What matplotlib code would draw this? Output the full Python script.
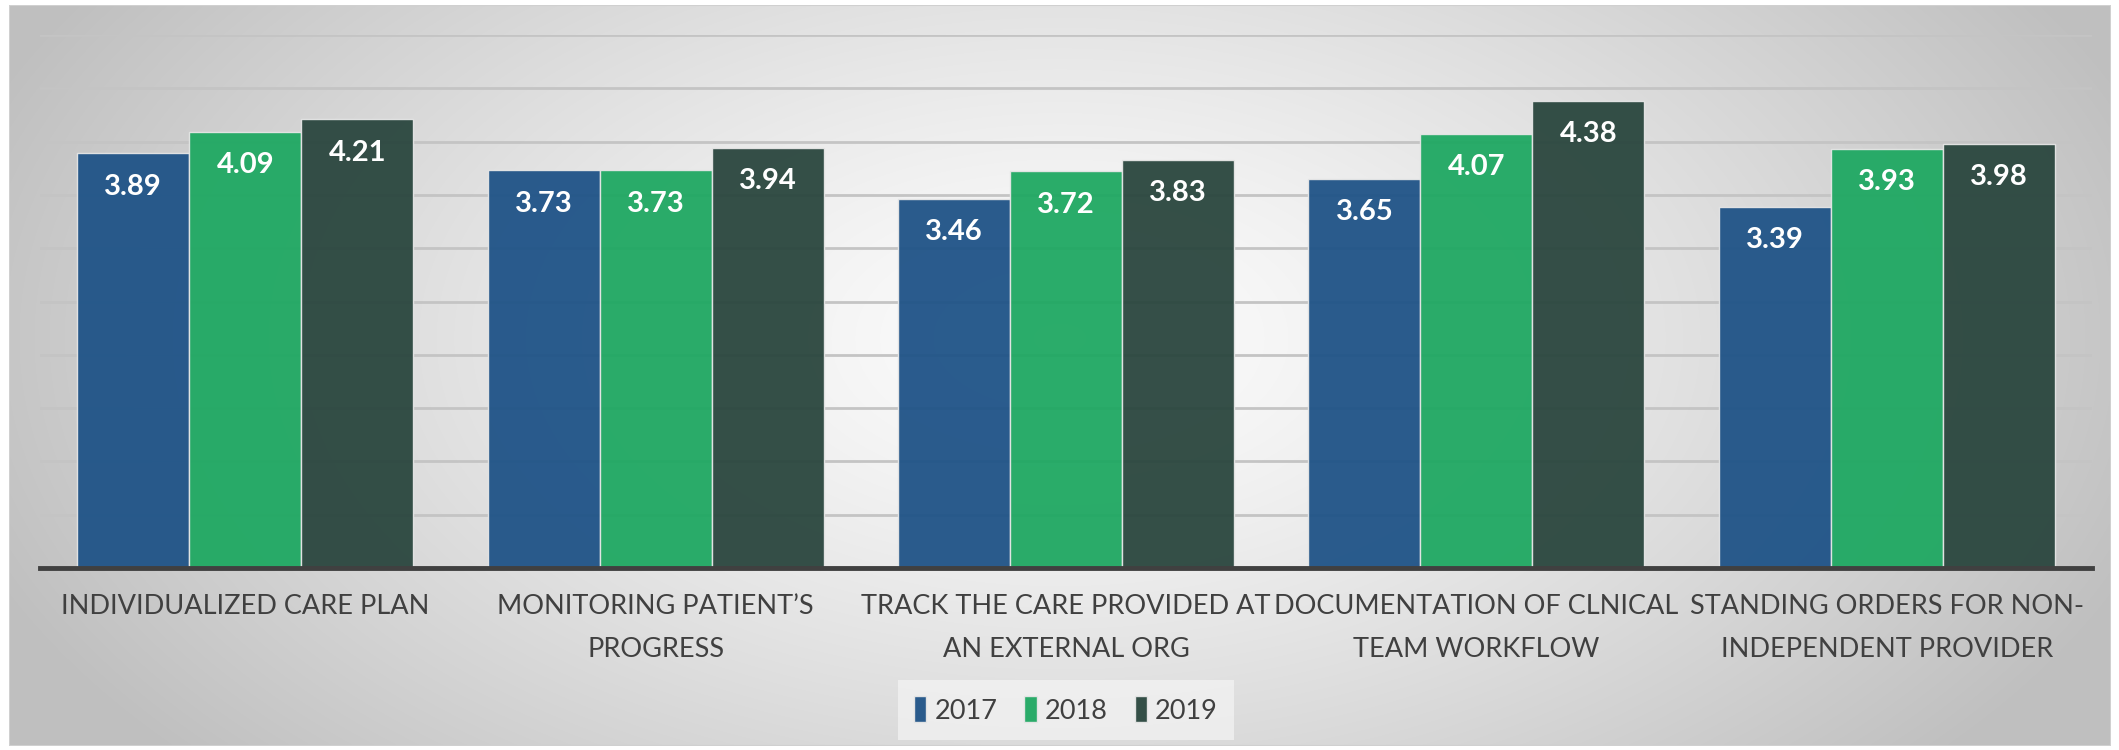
import numpy as np
import matplotlib
matplotlib.use("Agg")
import matplotlib.pyplot as plt
from matplotlib.patches import Rectangle

categories = ["INDIVIDUALIZED CARE PLAN",
              "MONITORING PATIENT\u2019S\nPROGRESS",
              "TRACK THE CARE PROVIDED AT\nAN EXTERNAL ORG",
              "DOCUMENTATION OF CLNICAL\nTEAM WORKFLOW",
              "STANDING ORDERS FOR NON-\nINDEPENDENT PROVIDER"]
series_names = ["2017", "2018", "2019"]
values_2017 = [3.89, 3.73, 3.46, 3.65, 3.39]
values_2018 = [4.09, 3.73, 3.72, 4.07, 3.93]
values_2019 = [4.21, 3.94, 3.83, 4.38, 3.98]
colors = ["#1f5387", "#1fa862", "#2a463e"]

plt.rcParams['font.family'] = ['Lato', 'DejaVu Sans']

W, H = 2119, 750
fig = plt.figure(figsize=(W / 100, H / 100), dpi=100)
fig.patch.set_facecolor("white")

# background radial gradient within chart area
x0, y0, x1, y1 = 9, 5, 2111, 746
bg = fig.add_axes([x0 / W, 1 - y1 / H, (x1 - x0) / W, (y1 - y0) / H])
bg.set_axis_off()
gx = np.linspace(-1, 1, 800)
gy = np.linspace(-1, 1, 300)
XX, YY = np.meshgrid(gx, gy)
cx, cy = 0.0, -0.1
R = np.sqrt(((XX - cx) / 1.0) ** 2 + ((YY - cy) / 1.6) ** 2)
R = np.clip(R / 1.1, 0, 1)
val = 0.99 - 0.24 * R ** 1.3
img = np.dstack([val, val, val])
bg.imshow(img, aspect="auto", extent=[0, 1, 0, 1], interpolation="bilinear")
bg.add_patch(Rectangle((0, 0), 1, 1, transform=bg.transAxes, fill=False,
                       edgecolor="#d0d0d0", linewidth=1.5))
bg.set_xlim(0, 1); bg.set_ylim(0, 1)

ax = fig.add_axes([40 / W, (H - 568) / H, (2092 - 40) / W, (568 - 35) / H])
ax.patch.set_alpha(0)
ax.set_xlim(-0.5, len(categories) - 0.5)
ax.set_ylim(0, 5)
ax.set_yticks(np.arange(0.5, 5.01, 0.5))
ax.yaxis.grid(True, color="#c4c4c4", linewidth=2)
ax.set_axisbelow(True)
ax.tick_params(axis="y", left=False, labelleft=False)
ax.tick_params(axis="x", bottom=False, pad=15, labelsize=19.5, labelcolor="#404040")
for s in ["top", "right", "left"]:
    ax.spines[s].set_visible(False)
ax.spines["bottom"].set_color("#404040")
ax.spines["bottom"].set_linewidth(3.5)

x = np.arange(len(categories))
bw = 0.273
all_vals = [values_2017, values_2018, values_2019]
for i, (name, vals, c) in enumerate(zip(series_names, all_vals, colors)):
    bars = ax.bar(x + (i - 1) * bw, vals, width=bw, color=c, alpha=0.95,
                  edgecolor="#e6e6e6", linewidth=1, label=name, zorder=2)
    for b, v in zip(bars, vals):
        ax.annotate(f"{v:.2f}", (b.get_x() + b.get_width() / 2, v),
                    xytext=(0, -24), textcoords="offset points",
                    ha="center", va="center", color="white",
                    fontsize=21, fontweight="bold", zorder=3)

ax.set_xticks(x)
ax.set_xticklabels(categories, linespacing=1.9)

leg = ax.legend(loc="center", bbox_to_anchor=(1066 / W, 1 - 710 / H),
                bbox_transform=fig.transFigure, ncol=3, frameon=True,
                fontsize=19.5, handlelength=0.45, handleheight=1.1,
                handletextpad=0.3, columnspacing=1.0, borderpad=0.6,
                fancybox=False)
leg.get_frame().set_facecolor("#f4f4f4")
leg.get_frame().set_alpha(0.7)
leg.get_frame().set_edgecolor("none")
for t in leg.get_texts():
    t.set_color("#404040")

fig.savefig("out.png", dpi=100)
